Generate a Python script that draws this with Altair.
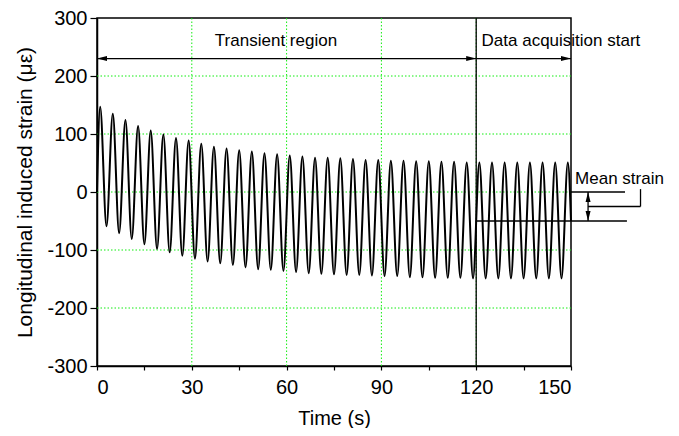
import altair as alt
import pandas as pd

# ---------------- data ----------------
peak_times = [1, 5, 9, 13, 17, 21, 25, 29, 33, 37, 41, 45, 49, 53, 57,
              61, 65, 69, 73, 77, 81, 85, 89, 93, 97, 101, 105, 109, 113, 117, 121,
              125, 129, 133, 137, 141, 145, 149]
peak_values = [147, 135, 124, 114, 106, 99, 93, 89, 83, 78, 75, 72, 70, 67, 65,
               63, 61, 59, 59, 58, 57, 55, 55, 54, 54, 53, 53, 52, 52, 51, 51,
               51, 51, 51, 51, 51, 51, 51]
trough_times = [3, 7, 11, 15, 19, 23, 27, 31, 35, 39, 43, 47, 51, 55, 59,
                63, 67, 71, 75, 79, 83, 87, 91, 95, 99, 103, 107, 111, 115, 119,
                123, 127, 131, 135, 139, 143, 147]
trough_values = [-59, -71, -81, -90, -98, -104, -110, -115, -120, -123, -126, -130, -133, -134, -136,
                 -138, -140, -141, -142, -143, -143, -144, -145, -145, -147, -147, -148, -148, -148, -149,
                 -149, -149, -149, -149, -149, -149, -149]
start_point = (0, 0)
end_point = (150, -50)

x_ticks = [0, 15, 30, 45, 60, 75, 90, 105, 120, 135, 150]
y_ticks = [-300, -250, -200, -150, -100, -50, 0, 50, 100, 150, 200, 250, 300]
grid_x = [30, 60, 90, 120]
grid_y = [-200, -100, 0, 100, 200]

# ---------------- build table ----------------
pts = [start_point]
for i in range(len(peak_times)):
    pts.append((peak_times[i], peak_values[i]))
    if i < len(trough_times):
        pts.append((trough_times[i], trough_values[i]))
pts.append(end_point)
df = pd.DataFrame(pts, columns=["t", "s"])

FONT = "Liberation Sans"
xs = alt.Scale(domain=[0, 150], nice=False, zero=False)
ys = alt.Scale(domain=[-300, 300], nice=False, zero=False)

x_axis = alt.Axis(
    title="Time (s)", values=x_ticks, grid=False,
    labelExpr="datum.value % 30 == 0 ? datum.label : ''",
    labelFont=FONT, labelFontSize=20, labelColor="black", labelPadding=7,
    titleFont=FONT, titleFontSize=20, titleFontWeight="normal", titleColor="black", titlePadding=11,
    tickSize=4, tickColor="black", tickWidth=1.2,
    domainColor="black", domainWidth=1.5,
)
y_axis = alt.Axis(
    title="Longitudinal induced strain (με)", values=y_ticks, grid=False,
    labelExpr="datum.value % 100 == 0 ? '' + datum.value : ''",
    labelFont=FONT, labelFontSize=20, labelColor="black", labelPadding=3,
    titleFont=FONT, titleFontSize=21, titleFontWeight="normal", titleColor="black", titlePadding=11,
    tickSize={"condition": {"test": "datum.value % 100 != 0", "value": 3}, "value": 7},
    tickColor="black", tickWidth=1.2,
    domainColor="black", domainWidth=1.5,
)

gx = alt.Chart(pd.DataFrame({"t": grid_x})).mark_rule(
    color="#11ee11", strokeDash=[1.5, 2], strokeWidth=1
).encode(x=alt.X("t:Q", scale=xs, axis=x_axis))
gy = alt.Chart(pd.DataFrame({"s": grid_y})).mark_rule(
    color="#11ee11", strokeDash=[1.5, 2], strokeWidth=1
).encode(y=alt.Y("s:Q", scale=ys, axis=y_axis))

curve = alt.Chart(df).mark_line(
    color="black", strokeWidth=2, interpolate="monotone"
).encode(x=alt.X("t:Q", scale=xs, axis=x_axis), y=alt.Y("s:Q", scale=ys, axis=y_axis))

# annotation lines (horizontal/vertical segments)
seg = pd.DataFrame({
    "x1": [120, 0, 120, 150, 120, 155.4, 155.4, 172.0],
    "x2": [120, 120, 150, 167.1, 167.7, 155.4, 172.0, 172.0],
    "y1": [-300, 230, 230, 0, -50, 0, -25, -25],
    "y2": [300, 230, 230, 0, -50, -50, -25, 5],
})
segs = alt.Chart(seg).mark_rule(color="black", strokeWidth=1.3).encode(
    x=alt.X("x1:Q", scale=xs), x2="x2:Q",
    y=alt.Y("y1:Q", scale=ys), y2="y2:Q",
)

heads = pd.DataFrame({
    "x": [0, 120, 150, 155.4, 155.4],
    "y": [230, 230, 230, 0, -50],
    "dir": ["left", "right", "right", "up", "down"],
})
paths = {
    "left": "M0,0L2,-0.5L2,0.5Z",
    "right": "M0,0L-2,-0.5L-2,0.5Z",
    "up": "M0,0L-0.5,2L0.5,2Z",
    "down": "M0,0L-0.5,-2L0.5,-2Z",
}
head_layers = []
for d, p in paths.items():
    head_layers.append(
        alt.Chart(heads[heads["dir"] == d]).mark_point(
            shape=p, filled=True, color="black", opacity=1, size=100, strokeWidth=0
        ).encode(x=alt.X("x:Q", scale=xs), y=alt.Y("y:Q", scale=ys))
    )

texts = pd.DataFrame({
    "x": [37.3, 121.7, 151.3],
    "y": [252, 252, 13],
    "label": ["Transient region", "Data acquisition start", "Mean strain"],
})
txt = alt.Chart(texts).mark_text(
    align="left", baseline="alphabetic", font=FONT, fontSize=17, color="black"
).encode(x=alt.X("x:Q", scale=xs), y=alt.Y("y:Q", scale=ys), text="label:N")

chart = alt.layer(gx, gy, curve, segs, *head_layers, txt).properties(
    width=474, height=348,
    autosize=alt.AutoSizeParams(type="none"),
    padding={"left": 89, "top": 10, "right": 100, "bottom": 62},
).configure_view(stroke="black", strokeWidth=1.5).resolve_scale(x="shared", y="shared")

chart.save("out.html", embed_options={"renderer": "svg", "actions": False})
